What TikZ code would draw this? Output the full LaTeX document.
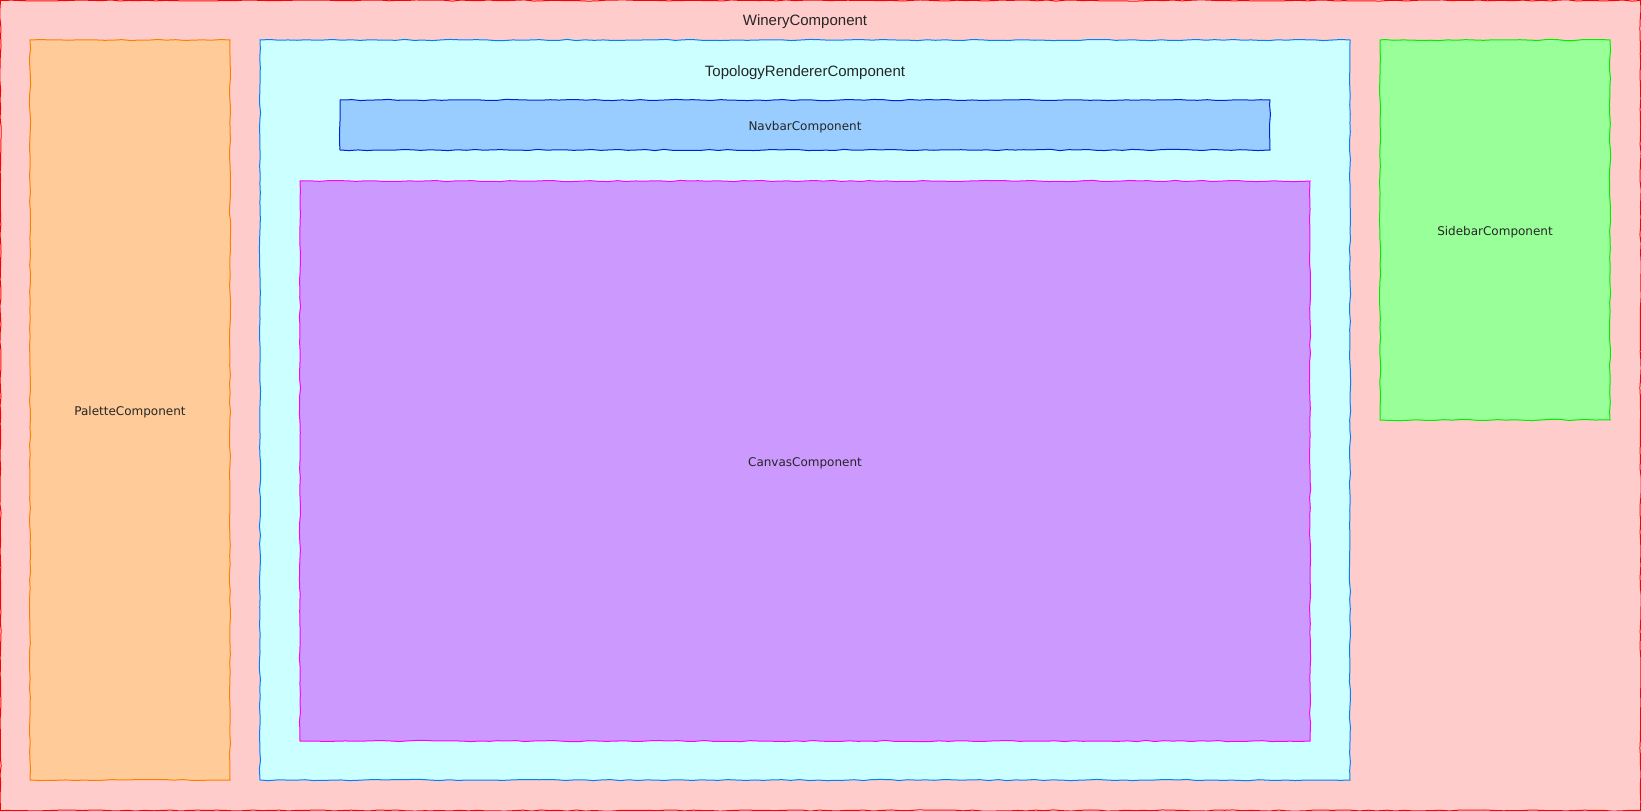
\documentclass[tikz,border=0pt]{standalone}
\usepackage{fontspec}
\setmainfont{DejaVu Sans}
\newfontfamily\headfont{Liberation Sans}
\usetikzlibrary{decorations.pathmorphing}
\definecolor{wineryfill}{HTML}{FFCCCC}
\definecolor{winerydraw}{HTML}{FF0000}
\definecolor{palettefill}{HTML}{FFCC99}
\definecolor{palettedraw}{HTML}{FF8000}
\definecolor{topofill}{HTML}{CCFFFF}
\definecolor{topodraw}{HTML}{007FFF}
\definecolor{navfill}{HTML}{99CCFF}
\definecolor{navdraw}{HTML}{0022DD}
\definecolor{canvasfill}{HTML}{CC99FF}
\definecolor{canvasdraw}{HTML}{FF00FF}
\definecolor{sidefill}{HTML}{99FF99}
\definecolor{sidedraw}{HTML}{00EE00}
\begin{document}
\begin{tikzpicture}[x=1pt,y=-1pt,
		comp/.style={draw, line width=1pt, rectangle, inner sep=0pt, outer sep=0pt, anchor=north west,
			decorate, decoration={random steps, segment length=9pt, amplitude=0.6pt}},
		lbl/.style={text=black!85, yshift=-2pt, font=\fontsize{12}{14}\selectfont},
		headlbl/.style={text=black!85, yshift=-2pt, font=\headfont\fontsize{15}{18}\selectfont}]
		\pgfmathsetseed{11}
		\useasboundingbox (0,0) rectangle (1641,811);
		% outer component
		\node[comp, draw=winerydraw, fill=wineryfill, minimum width=1640pt, minimum height=810pt] (winery) at (0.5,0.5) {};
		\node[headlbl] (winerylbl) at (805,20) {WineryComponent};
		% left and right columns
		\node[comp, draw=palettedraw, fill=palettefill, minimum width=200pt, minimum height=740pt] (palette) at (30,40) {};
		\node[lbl] (palettelbl) at (palette.center) {PaletteComponent};
		\node[comp, draw=sidedraw, fill=sidefill, minimum width=230pt, minimum height=380pt] (sidebar) at (1380,40) {};
		\node[lbl] (sidebarlbl) at (sidebar.center) {SidebarComponent};
		% renderer with navbar and canvas
		\node[comp, draw=topodraw, fill=topofill, minimum width=1090pt, minimum height=740pt] (topo) at (260,40) {};
		\node[headlbl] (topolbl) at (805,71) {TopologyRendererComponent};
		\node[comp, draw=navdraw, fill=navfill, minimum width=930pt, minimum height=50pt] (navbar) at (340,100) {};
		\node[lbl] (navbarlbl) at (navbar.center) {NavbarComponent};
		\node[comp, draw=canvasdraw, fill=canvasfill, minimum width=1010pt, minimum height=560pt] (canvas) at (300,181) {};
		\node[lbl] (canvaslbl) at (canvas.center) {CanvasComponent};
	\end{tikzpicture}
\end{document}
